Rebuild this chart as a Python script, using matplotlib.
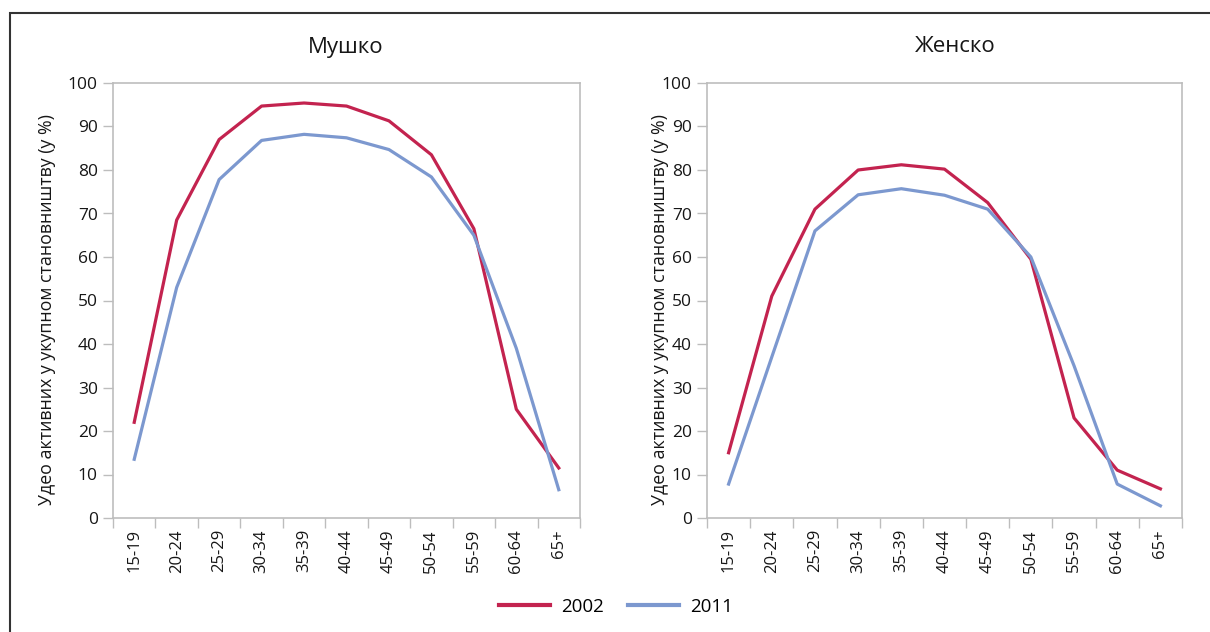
import matplotlib
matplotlib.use("Agg")
import matplotlib.pyplot as plt
from matplotlib.lines import Line2D
from matplotlib.patches import Rectangle

plt.rcParams['font.family'] = ['Open Sans', 'DejaVu Sans']

age_groups = ["15-19", "20-24", "25-29", "30-34", "35-39", "40-44",
              "45-49", "50-54", "55-59", "60-64", "65+"]

male_2002 = [22, 68.5, 87, 94.7, 95.4, 94.7, 91.3, 83.5, 66.5, 25, 11.5]
male_2011 = [13.5, 53, 77.8, 86.8, 88.2, 87.4, 84.7, 78.4, 65, 39, 6.5]
female_2002 = [15, 51, 71, 80, 81.2, 80.2, 72.5, 59.5, 23, 11, 6.7]
female_2011 = [7.8, 37, 66, 74.3, 75.7, 74.2, 71, 60, 35, 7.8, 2.8]

panel_titles = ["Мушко", "Женско"]
series_labels = ["2002", "2011"]
y_label = "Удео активних у укупном становништву (у %)"

RED = "#C3234F"
BLUE = "#7C98CF"
GRID_GRAY = "#BDBDBD"
TEXT = "#161616"

fig = plt.figure(figsize=(12.1, 6.32), dpi=100)

# outer frame of the figure box
fig.patches.append(Rectangle((10 / 1210, -0.1), 1.2, 1.1 - 13 / 632,
                             transform=fig.transFigure, fill=False,
                             edgecolor="#333333", linewidth=1.5))

ax_positions = [[113 / 1210, 1 - 518 / 632, 467 / 1210, 435 / 632],
                [707 / 1210, 1 - 518 / 632, 475 / 1210, 435 / 632]]
panel_data = [(male_2002, male_2011), (female_2002, female_2011)]
ylabel_x = [47, 660]
title_x = [346, 955]

xs = list(range(len(age_groups)))
for i in range(2):
    ax = fig.add_axes(ax_positions[i])
    d2002, d2011 = panel_data[i]
    ax.plot(xs, d2002, color=RED, linewidth=2.3, solid_joinstyle="round")
    ax.plot(xs, d2011, color=BLUE, linewidth=2.3, solid_joinstyle="round")

    ax.set_xlim(-0.5, len(age_groups) - 0.5)
    ax.set_ylim(0, 100)
    ax.set_yticks(range(0, 101, 10))
    ax.set_xticks(xs)
    ax.set_xticklabels(age_groups, rotation=90, fontsize=12, color=TEXT)
    ax.set_xticks([x - 0.5 for x in range(len(age_groups) + 1)], minor=True)
    ax.tick_params(axis="x", which="major", length=0, pad=8)
    ax.tick_params(axis="x", which="minor", length=7, color=GRID_GRAY, width=1)
    ax.tick_params(axis="y", length=7, color=GRID_GRAY, width=1,
                   labelsize=12.5, labelcolor=TEXT, pad=4)
    for sp in ax.spines.values():
        sp.set_color(GRID_GRAY)
        sp.set_linewidth(1.2)

    fig.text(title_x[i] / 1210, 1 - 47 / 632, panel_titles[i], ha="center",
             va="center", fontsize=16, color=TEXT)
    fig.text(ylabel_x[i] / 1210, 1 - 310 / 632, y_label, rotation=90,
             ha="center", va="center", fontsize=12.8, color=TEXT)

handles = [Line2D([], [], color=RED, linewidth=3),
           Line2D([], [], color=BLUE, linewidth=3)]
fig.legend(handles, series_labels, loc="center", ncol=2,
           bbox_to_anchor=(616 / 1210, 1 - 607 / 632), frameon=False,
           fontsize=13.5, handlelength=2.7, handletextpad=0.6,
           columnspacing=1.3)

fig.savefig("out.png", dpi=100)
